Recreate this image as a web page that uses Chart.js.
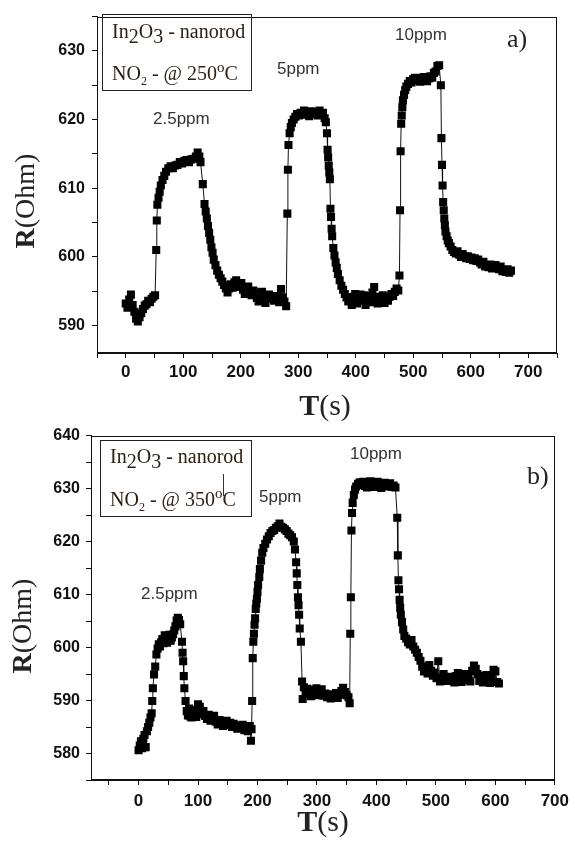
<!DOCTYPE html>
<html>
<head>
<meta charset="utf-8">
<script src="https://cdn.jsdelivr.net/npm/chart.js@4.4.0/dist/chart.umd.min.js"></script>
<style>
html,body{margin:0;padding:0;background:#fff;}
#wrap{position:relative;width:575px;height:850px;overflow:hidden;background:#fff;}
canvas{position:absolute;left:0;}
.t{position:absolute;white-space:nowrap;line-height:1;}
.ann{font-family:"Liberation Sans",Arial,sans-serif;font-size:17px;color:#333;}
.serif{font-family:"Liberation Serif","Times New Roman",serif;color:#222;}
.box{position:absolute;border:1px solid #222;box-sizing:border-box;}
.leg{font-family:"Liberation Serif","Times New Roman",serif;font-size:20px;color:#2e2014;}
.sb{position:relative;top:5px;}
.sb2{position:relative;top:5px;font-size:12px;}
.sp{position:relative;top:-8px;font-size:15px;}
.ytitle{position:absolute;width:130px;height:32px;line-height:32px;text-align:center;font-size:28px;transform:rotate(-90deg);white-space:nowrap;}
.xtitle{position:absolute;width:120px;text-align:center;font-size:30px;line-height:1;white-space:nowrap;}
</style>
</head>
<body>
<div id="wrap">
<canvas id="chartA" width="575" height="420" style="top:0px"></canvas>
<canvas id="chartB" width="575" height="430" style="top:420px"></canvas>

<!-- panel a -->
<div class="box" style="left:102px;top:14px;width:150px;height:77px"></div>
<div class="t leg" style="left:112px;top:21px">In<span class="sb">2</span>O<span class="sb">3</span> - nanorod</div>
<div class="t leg" style="left:112px;top:63px">NO<span class="sb2">2</span> - @ 250<span class="sp">o</span>C</div>
<div class="t ann" id="a1" style="left:153px;top:110px"></div>
<div class="t ann" id="a2" style="left:277px;top:60px"></div>
<div class="t ann" id="a3" style="left:395px;top:26px"></div>
<div class="t serif" style="left:507px;top:26px;font-size:26px">a)</div>
<div class="ytitle serif" style="left:-40px;top:185px"><b>R</b>(Ohm)</div>
<div class="xtitle serif" style="left:265px;top:390px"><b>T</b>(s)</div>

<!-- panel b -->
<div class="box" style="left:100px;top:440px;width:152px;height:77px"></div>
<div class="t leg" style="left:110px;top:446px">In<span class="sb">2</span>O<span class="sb">3</span> - nanorod</div>
<div style="position:absolute;left:223px;top:474px;width:1px;height:22px;background:#333"></div>
<div class="t leg" style="left:110px;top:489px">NO<span class="sb2">2</span> - @ 350<span class="sp">o</span>C</div>
<div class="t ann" id="b1" style="left:141px;top:585px"></div>
<div class="t ann" id="b2" style="left:259px;top:488px"></div>
<div class="t ann" id="b3" style="left:350px;top:445px"></div>
<div class="t serif" style="left:527px;top:463px;font-size:26px">b)</div>
<div class="ytitle serif" style="left:-43px;top:610px"><b>R</b>(Ohm)</div>
<div class="xtitle serif" style="left:263px;top:806px"><b>T</b>(s)</div>
</div>

<script>
// ---------- data: panel a (250 °C) ----------
const timeA = [
  0,3,6,9,12,15,18,21,24,27, 30,33,36,39,42,45,48,51,
  53,54,55,57,59,61,64,67,70,74, 78,82,86,90,94,98,102,106,110,114, 118,122,125,128,130,
  134,137,139,141,143,145,147,149,151,153, 156,159,162,165,168,171,174,177,180,183,
  186,189,192,195,198,201,204,207,210,213, 216,219,222,225,228,231,234,237,240,243,
  246,249,252,255,258,261,264,267,270,273, 276,279,
  281,282,283,285,287,289,292,295,298,301, 304,307,310,313,316,319,322,325,328,331, 334,337,340,343,346,348,
  350,351,352,353,354,355,356,357,358,359, 361,363,365,367,369,372,375,378,381,384,
  387,390,393,396,399,402,405,408,411,414, 417,420,423,426,429,432,435,438,441,444,
  447,450,453,456,459,462,465,468,471,474,
  476,477,478,479,480,481,482,484,486,488, 491,494,497,500,503,506,509,512,515,518,
  521,524,527,530,533,536,539,542,545,548,
  549,550,551,552,553,554,555,556,558,560, 562,565,568,571,574,577,580,583,586,589,
  592,595,598,601,604,607,610,613,616,619, 622,625,628,631,634,637,640,643,646,649,
  652,655,658,661,664,667,670
];
const resistanceA = [
  593.2,592.6,593.8,594.5,593.0,592.0,591.0,590.6,591.2,591.8, 592.4,592.9,593.1,593.6,593.4,593.9,594.2,594.4,
  601.0,605.3,607.6,608.6,609.5,610.4,611.2,611.8,612.4,612.9, 613.2,612.9,613.3,613.4,613.8,613.6,614.0,614.1,613.8,614.2, 614.3,614.6,615.2,614.6,613.8,
  610.6,607.7,606.6,605.6,604.5,603.5,602.5,601.4,600.6,599.6, 598.8,598.0,597.4,596.9,596.4,595.9,595.4,594.8,595.4,596.0,
  595.5,596.3,596.6,596.0,595.6,596.2,595.2,594.6,595.3,595.7, 595.0,594.4,595.1,594.8,594.0,593.5,594.3,594.9,593.8,593.3,
  594.1,594.5,593.9,594.2,593.6,594.3,594.0,593.4,595.3,594.1, 593.5,592.8,
  606.3,612.7,616.3,618.0,618.9,619.5,620.0,620.4,620.8,620.6, 621.0,620.9,621.3,620.7,621.0,620.5,621.2,620.8,620.9,621.1, 620.6,621.3,620.9,621.0,620.2,619.6,
  618.0,615.6,614.5,613.3,612.3,611.3,607.0,605.8,604.1,603.0, 601.3,600.2,599.2,598.4,597.5,596.6,595.8,595.2,594.6,594.1,
  593.5,593.8,593.0,594.2,594.6,593.2,594.0,594.5,593.6,594.4, 593.0,593.9,594.3,593.4,594.8,595.6,594.2,593.2,594.1,593.7,
  594.4,593.3,594.0,593.6,594.2,594.6,594.3,594.9,595.4,595.1,
  597.3,606.8,615.4,619.4,620.6,621.8,622.8,623.6,624.3,624.8, 625.2,625.6,625.4,625.9,626.1,625.7,626.0,625.5,625.8,626.2,
  625.9,625.6,626.0,626.3,626.1,626.8,627.0,627.8,627.9,625.0,
  617.3,613.4,610.4,608.0,606.8,605.6,604.6,603.7,603.0,602.4, 602.0,601.5,601.0,600.7,600.5,600.8,600.3,600.0,600.4,600.1,
  599.8,600.1,599.7,599.9,599.5,599.8,599.4,599.6,599.2,598.9, 599.3,598.6,598.8,598.5,598.9,598.3,598.6,598.8,598.4,598.2,
  598.6,597.9,598.1,597.8,598.2,597.7,598.0
];

// ---------- data: panel b (350 °C) ----------
const timeB = [
  0,2,4,6,8,10,12,14,16,18, 20,22,23,24,26,28,30,32,34,36, 38,40,42,44,46,48,50,52,54,56, 58,60,62,64,66,68,70,
  73,74,75,76,77,79,81,83,85,87, 89,91,94,97,100,103,106,109,112,115, 118,121,124,127,130,133,136,139,142,145,
  148,151,154,157,160,163,166,169,172,175, 178,181,184,187,189,
  190,191,192,193,194,195,196,197,198,199, 200,201,203,204,206,208,210,213,216,219,
  222,225,228,231,234,237,240,243,246,249, 252,255,258,261,263,265,266,267,268,269, 270,271,273,
  275,276,278,281,284,287,290,293,296,299, 302,305,308,311,314,317,320,323,326,329, 332,335,338,341,344,347,350,353,355,
  356,357,358,359,360,362,364,366,369,372, 375,378,381,384,387,390,393,396,399,402, 405,408,411,414,417,420,423,426,429,432,
  435,436,437,438,439,440,441,443,445,447, 450,453,456,459,462,465,468,471,474,477,
  480,483,486,489,492,495,498,501,504,507, 510,513,516,519,522,525,528,531,534,537,
  540,543,546,549,552,555,558,561,564,567, 570,573,576,579,582,585,588,591,594,597, 600,603,606
];
const resistanceB = [
  580.6,581.5,582.3,581.0,582.8,583.5,581.2,584.2,585.0,585.8, 586.8,587.6,589.9,592.3,594.9,596.4,598.7,599.8,600.6,600.2,
  601.0,601.6,600.8,602.3,601.5,600.9,601.8,602.4,601.3,601.9, 602.5,603.2,604.0,605.1,605.6,605.2,604.4,
  601.1,599.0,597.4,594.6,592.3,589.9,588.0,587.2,588.5,587.0, 586.8,587.6,588.2,586.9,589.3,588.8,587.4,588.0,587.1,586.5,
  587.3,586.2,586.8,587.1,586.0,585.5,586.3,585.7,585.2,585.9, 586.2,585.4,585.8,585.0,585.6,585.2,584.7,585.3,584.9,585.4,
  584.4,585.0,584.2,585.2,582.4,
  584.6,589.9,598.0,601.1,602.6,604.3,605.5,607.3,608.3,609.2, 610.5,611.8,613.3,614.8,616.4,617.9,618.8,619.6,620.4,621.0,
  621.6,622.0,622.2,622.6,622.9,623.4,622.8,622.6,622.3,622.0, 621.5,621.2,620.8,620.0,618.5,616.1,614.0,611.8,609.5,608.0, 606.2,603.6,601.1,
  593.6,590.3,592.5,591.6,592.2,591.2,590.8,592.0,591.4,592.3, 591.0,591.5,592.1,590.9,591.3,590.6,591.2,590.4,591.0,590.7, 591.4,590.5,591.1,591.8,592.4,591.6,591.0,590.6,589.5,
  602.6,609.5,622.1,625.4,627.3,628.8,629.8,630.4,630.9,631.2, 630.7,631.3,630.5,630.2,630.9,631.4,630.6,630.3,630.9,631.3, 630.5,630.1,630.8,631.1,630.4,630.8,631.0,630.3,630.6,630.2,
  624.5,617.4,612.7,611.0,609.0,607.5,606.2,604.8,603.4,602.2, 601.7,601.0,600.6,601.4,600.2,599.6,599.0,598.2,597.5,596.4,
  595.5,596.0,595.1,596.7,595.6,594.7,595.3,594.2,597.4,593.6, 594.3,595.0,594.1,593.7,594.5,593.9,594.2,593.4,594.6,595.2,
  594.0,593.5,594.3,595.0,593.8,594.4,593.6,595.6,596.6,596.0, 595.0,593.7,594.6,593.4,594.2,594.8,593.9,593.3,594.5,595.8, 595.5,593.5,593.2
];

// ---------- tick labels & annotations ----------
const xLabelsA = [0,100,200,300,400,500,600,700];
const yLabelsA = [590,600,610,620,630];
const xLabelsB = [0,100,200,300,400,500,600,700];
const yLabelsB = [580,590,600,610,620,630,640];
const ppmLabels = ['2.5ppm','5ppm','10ppm'];

['a1','a2','a3'].forEach((id,i)=>{document.getElementById(id).textContent = ppmLabels[i];});
['b1','b2','b3'].forEach((id,i)=>{document.getElementById(id).textContent = ppmLabels[i];});

function toPoints(ts, rs){ return ts.map((t,i)=>({x:t, y:rs[i]})); }

const framePlugin = {
  id:'frame',
  afterDraw(chart){
    const a = chart.chartArea, c = chart.ctx;
    c.save();
    c.strokeStyle = '#111';
    c.lineWidth = 1;
    c.strokeRect(Math.round(a.left)+0.5, Math.round(a.top)+0.5, Math.round(a.right)-Math.round(a.left)-1, Math.round(a.bottom)-Math.round(a.top)-1);
    c.restore();
  }
};

function build(id, ts, rs, cfg){
  const tickFont = (s)=>({family:'"Liberation Sans", Arial, sans-serif', size:s, weight:'bold'});
  return new Chart(document.getElementById(id), {
    type:'scatter',
    data:{datasets:[{
      data:toPoints(ts, rs),
      showLine:true,
      borderColor:'#111',
      borderWidth:1,
      pointStyle:'rect',
      pointRadius:5.7,
      pointHoverRadius:5.7,
      pointBackgroundColor:'#000',
      pointBorderWidth:0
    }]},
    options:{
      responsive:false,
      animation:false,
      events:[],
      layout:{padding:{left:0, right:cfg.padRight, top:cfg.padTop, bottom:0}},
      plugins:{legend:{display:false}, tooltip:{enabled:false}},
      scales:{
        x:{
          type:'linear', min:cfg.xMin, max:cfg.xMax,
          afterFit(s){ s.height = cfg.xHeight; },
          grid:{display:true, drawOnChartArea:false, drawTicks:true, tickLength:5, color:'#111', tickColor:'#111'},
          border:{display:true, color:'#111', width:1},
          ticks:{stepSize:50, autoSkip:false, maxRotation:0, minRotation:0, includeBounds:false, padding:cfg.xPad,
                 color:'#111', font:tickFont(17),
                 callback:(v)=> cfg.xLabels.includes(v) ? String(v) : ''}
        },
        y:{
          type:'linear', min:cfg.yMin, max:cfg.yMax,
          afterFit(s){ s.width = cfg.yWidth; },
          grid:{display:true, drawOnChartArea:false, drawTicks:true, tickLength:5, color:'#111', tickColor:'#111'},
          border:{display:true, color:'#111', width:1},
          ticks:{stepSize:5, autoSkip:false, includeBounds:false, padding:cfg.yPad,
                 color:'#111', font:tickFont(16),
                 callback:(v)=> cfg.yLabels.includes(v) ? String(v) : ''}
        }
      }
    },
    plugins:[framePlugin]
  });
}

build('chartA', timeA, resistanceA, {
  xMin:-50, xMax:750, yMin:586, yMax:635,
  xLabels:xLabelsA, yLabels:yLabelsA,
  padTop:10, padRight:18, xHeight:67, yWidth:97, xPad:4, yPad:7
});
build('chartB', timeB, resistanceB, {
  xMin:-80, xMax:700, yMin:575, yMax:640,
  xLabels:xLabelsB, yLabels:yLabelsB,
  padTop:12, padRight:16, xHeight:70, yWidth:91, xPad:6, yPad:6
});
</script>
</body>
</html>
